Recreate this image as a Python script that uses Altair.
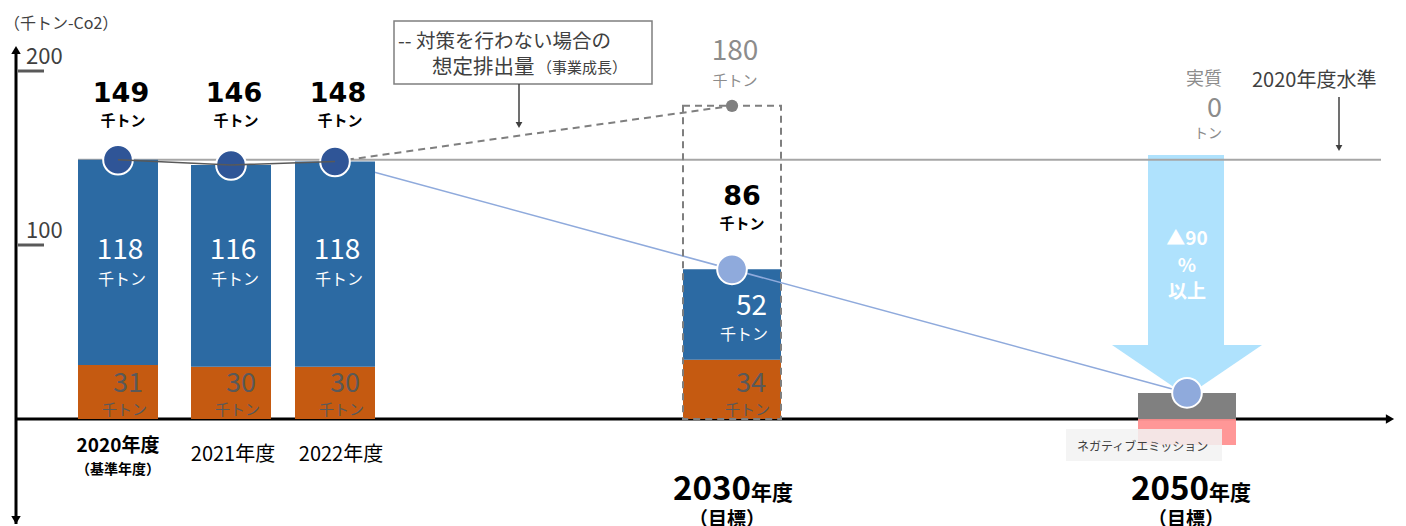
import altair as alt
import pandas as pd

# ---------------- data ----------------
years = ["2020年度", "2021年度", "2022年度", "2030年度", "2050年度"]
lower_vals = [31, 30, 30, 34]        # orange segment (thousand t-CO2)
upper_vals = [118, 116, 118, 52]     # blue segment
totals = [149, 146, 148, 86]
bau_2030 = 180                       # projected emissions without measures
residual_2050 = 15                   # remaining emissions 2050 (estimate)
negative_2050 = -15                  # negative emissions 2050 (estimate)
y_ticks = [100, 200]
unit = "千トン"

# ---------------- layout ----------------
W, H = 1406, 526
Y0 = 419          # pixel row of value 0
PPU = 1.74        # pixels per unit


def v(px):
    return (Y0 - px) / PPU


XC = [118, 231, 335, 732, 1187]   # slot centres
BW = [80, 80, 80, 98, 98]         # slot widths
FONT = "Noto Sans CJK JP"
BOLDNUM = "DejaVu Sans, Noto Sans CJK JP"
DARK = "#404040"
GREY = "#8C8C8C"

XS = alt.Scale(domain=[0, W], nice=False, zero=False)
YS = alt.Scale(domain=[v(H), v(0)], nice=False, zero=False)


def X(f="x"):
    return alt.X(f"{f}:Q", scale=XS, axis=None)


def Y(f="y"):
    return alt.Y(f"{f}:Q", scale=YS, axis=None)


def rect(rows, **kw):
    df = pd.DataFrame(rows, columns=["x", "x2", "y", "y2"])
    return alt.Chart(df).mark_rect(**kw).encode(
        x=X(), x2=alt.X2("x2"), y=Y(), y2=alt.Y2("y2"))


def rule(rows, **kw):
    df = pd.DataFrame(rows, columns=["x", "x2", "y", "y2"])
    return alt.Chart(df).mark_rule(**kw).encode(
        x=X(), x2=alt.X2("x2"), y=Y(), y2=alt.Y2("y2"))


def line(xs, ys, **kw):
    df = pd.DataFrame({"x": xs, "y": ys, "o": list(range(len(xs)))})
    return alt.Chart(df).mark_line(**kw).encode(x=X(), y=Y(), order="o:Q")


def pts(xs, ys, **kw):
    df = pd.DataFrame({"x": xs, "y": ys})
    return alt.Chart(df).mark_point(**kw).encode(x=X(), y=Y())


def txt(rows, **kw):
    df = pd.DataFrame(rows, columns=["x", "y", "t"])
    kw.setdefault("font", FONT)
    kw.setdefault("baseline", "alphabetic")
    return alt.Chart(df).mark_text(**kw).encode(x=X(), y=Y(), text="t:N")


layers = []

# axes
layers.append(rule([[16, 16, v(524), v(52)]], color="black", strokeWidth=3))
layers.append(rule([[16, 1386, 0, 0]], color="black", strokeWidth=3))
layers.append(pts([16], [v(50)], shape="triangle-up", filled=True, size=90, color="black", opacity=1))
layers.append(pts([16], [v(520)], shape="triangle-down", filled=True, size=90, color="black", opacity=1))
layers.append(pts([1390], [0], shape="triangle-right", filled=True, size=90, color="black", opacity=1))
layers.append(rule([[18, 44, t, t] for t in y_ticks], color="#595959", strokeWidth=3))
layers.append(txt([[26, t, str(t)] for t in y_ticks], align="left", dy=-7, fontSize=22, color=DARK))
layers.append(txt([[4, v(29), "（千トン-Co2）"]], align="left", fontSize=16, color=DARK))

# big light-blue reduction arrow
layers.append(rect([[1148, 1224, v(155), v(346)]], color="#AFE2FD"))
head = pd.DataFrame({"x": [1112, 1187, 1262], "y": [v(345)] * 3,
                     "y2": [v(345), v(396), v(345)]})
layers.append(alt.Chart(head).mark_area(color="#AFE2FD", opacity=1).encode(
    x=X(), y=Y(), y2=alt.Y2("y2")))

# 2020 level line
layers.append(rule([[78, 1381, totals[0], totals[0]]], color="#A6A6A6", strokeWidth=2))

# light-blue pathway, part 1 (behind bars)
layers.append(line([XC[2], XC[3]], [totals[2], totals[3]], color="#8FAADC", strokeWidth=1.6))

# stacked bars
bar_rows = []
for i in range(4):
    x0, x1 = XC[i] - BW[i] / 2, XC[i] + BW[i] / 2
    bar_rows.append([x0, x1, 0, lower_vals[i], "lower"])
    bar_rows.append([x0, x1, lower_vals[i], lower_vals[i] + upper_vals[i], "upper"])
bars = pd.DataFrame(bar_rows, columns=["x", "x2", "y", "y2", "seg"])
layers.append(alt.Chart(bars).mark_rect().encode(
    x=X(), x2=alt.X2("x2"), y=Y(), y2=alt.Y2("y2"),
    color=alt.Color("seg:N", scale=alt.Scale(domain=["lower", "upper"],
                                             range=["#C55A11", "#2C6AA3"]), legend=None)))

# dashed BAU box & line
layers.append(rect([[XC[3] - BW[3] / 2, XC[3] + BW[3] / 2, 0, bau_2030]],
                   fill=None, filled=False, stroke="#7F7F7F", strokeWidth=2, strokeDash=[7, 5]))
layers.append(line([XC[2], XC[3]], [totals[2], bau_2030], color="#7F7F7F", strokeWidth=2, strokeDash=[7, 5]))

# 2050 boxes
layers.append(rect([[XC[4] - BW[4] / 2, XC[4] + BW[4] / 2, 0, residual_2050]], color="#808080"))
layers.append(rect([[XC[4] - BW[4] / 2, XC[4] + BW[4] / 2, negative_2050, 0]], color="#FF9191", opacity=0.95))
layers.append(rect([[1066, 1222, v(429), v(461)]], color="#F2F2F2", opacity=0.85))
layers.append(txt([[1077, v(451), "ネガティブエミッション"]], align="left", fontSize=12, color=DARK))

# light-blue pathway, part 2
layers.append(line([XC[3], XC[4]], [totals[3], residual_2050], color="#8FAADC", strokeWidth=1.6))

# circles
layers.append(pts(XC[:3], totals[:3], shape="circle", filled=True, size=880,
                  color="#2F5597", stroke="white", strokeWidth=2, opacity=1))
layers.append(pts([XC[3], XC[4]], [totals[3], residual_2050], shape="circle", filled=True, size=880,
                  color="#8FAADC", stroke="white", strokeWidth=2, opacity=1))
layers.append(pts([XC[3]], [bau_2030], shape="circle", filled=True, size=150, color="#7F7F7F", opacity=1))
layers.append(line(XC[:3], totals[:3], color="#595959", strokeWidth=1.6))

# total labels
layers.append(txt([[XC[i] + 3, v(102), str(totals[i])] for i in range(3)] +
                  [[XC[3] + 10, v(205), str(totals[3])]],
                  align="center", fontSize=27, fontWeight="bold", color="black", font=BOLDNUM))
layers.append(txt([[XC[i] + 5, v(126), unit] for i in range(3)] + [[XC[3] + 10, v(229), unit]],
                  align="center", fontSize=15, fontWeight="bold", color="black"))

# upper segment labels
layers.append(txt([[XC[i] + 2, v(259), str(upper_vals[i])] for i in range(3)],
                  align="center", fontSize=28, color="white"))
layers.append(txt([[XC[i] + 4, v(285), unit] for i in range(3)],
                  align="center", fontSize=16, color="white"))
layers.append(txt([[XC[3] + BW[3] / 2 - 14, v(315), str(upper_vals[3])]],
                  align="right", fontSize=28, color="white"))
layers.append(txt([[XC[3] + BW[3] / 2 - 13, v(340), unit]],
                  align="right", fontSize=16, color="white"))

# lower segment labels
layers.append(txt([[XC[i] + BW[i] / 2 - 15, v(392), str(lower_vals[i])] for i in range(4)],
                  align="right", fontSize=27, color="#595959"))
layers.append(txt([[XC[i] + BW[i] / 2 - 11, v(415), unit] for i in range(4)],
                  align="right", fontSize=15, color="#595959"))

# BAU label
layers.append(txt([[735, v(60), str(bau_2030)]], align="center", fontSize=28, color=GREY))
layers.append(txt([[735, v(86), unit]], align="center", fontSize=15, color=GREY))

# net zero label
layers.append(txt([[1222, v(85), "実質"]], align="right", fontSize=18, color=GREY))
layers.append(txt([[1222, v(117), "0"]], align="right", fontSize=27, color=GREY))
layers.append(txt([[1222, v(138), "トン"]], align="right", fontSize=14, color=GREY))

# 2020 level annotation
layers.append(txt([[1252, v(87), "2020年度水準"]], align="left", fontSize=20, color=DARK))
layers.append(rule([[1339, 1339, v(97), v(145)]], color="#404040", strokeWidth=1.5))
layers.append(pts([1339], [v(148)], shape="triangle-down", filled=True, size=45, color="#404040", opacity=1))

# arrow text
layers.append(txt([[1187, v(245), "▲90"], [1187, v(272), "%"], [1187, v(298), "以上"]],
                  align="center", fontSize=19, fontWeight="bold", color="white"))

# BAU annotation box
layers.append(rect([[394, 652, v(21), v(84)]], fill="white", stroke="#7F7F7F", strokeWidth=1.5))
layers.append(txt([[398, v(48), "-- 対策を行わない場合の"]], align="left", fontSize=19.5, color=DARK))
layers.append(txt([[432, v(74), "想定排出量"]], align="left", fontSize=20.5, color=DARK))
layers.append(txt([[537, v(73), "（事業成長）"]], align="left", fontSize=15, color=DARK))
layers.append(rule([[519, 519, v(84), v(122)]], color="#404040", strokeWidth=1.5))
layers.append(pts([519], [v(125)], shape="triangle-down", filled=True, size=45, color="#404040", opacity=1))

# x category labels
layers.append(txt([[XC[0], v(452), years[0]]], align="center", fontSize=19, fontWeight="bold", color="black"))
layers.append(txt([[XC[0], v(474), "（基準年度）"]], align="center", fontSize=14, fontWeight="bold", color="black"))
layers.append(txt([[XC[1] + 2, v(461), years[1]], [XC[2] + 6, v(461), years[2]]],
                  align="center", fontSize=20, color="black"))
layers.append(txt([[751, v(500), years[3][:4]], [1209, v(500), years[4][:4]]],
                  align="right", fontSize=33, fontWeight="bold", color="black"))
layers.append(txt([[751, v(500), years[3][4:]], [1209, v(500), years[4][4:]]],
                  align="left", fontSize=21, fontWeight="bold", color="black"))
layers.append(txt([[727, v(526), "（目標）"], [1186, v(526), "（目標）"]],
                  align="center", fontSize=19, fontWeight="bold", color="black"))

chart = alt.layer(*layers).properties(
    width=W, height=H, padding=0, autosize=alt.AutoSizeParams(type="none")
).configure_view(stroke=None)

chart.save("out.html", embed_options={"renderer": "svg", "actions": False})
